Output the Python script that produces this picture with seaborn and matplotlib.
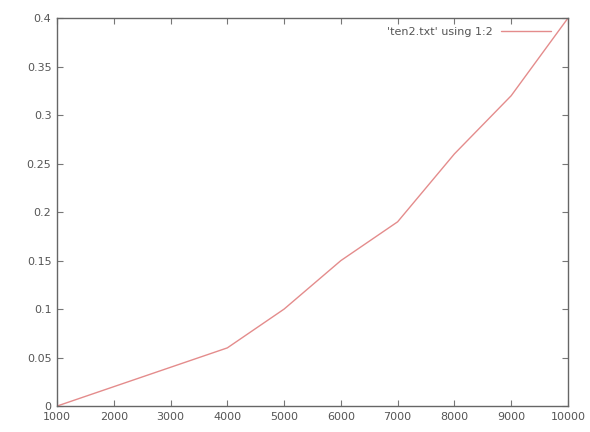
import matplotlib
matplotlib.use('Agg')
import matplotlib.pyplot as plt
import seaborn as sns
import pandas as pd

# valores
x_vals = [1000, 2000, 3000, 4000, 5000, 6000, 7000, 8000, 9000, 10000]
y_vals = [0.0, 0.02, 0.04, 0.06, 0.1, 0.15, 0.19, 0.26, 0.32, 0.4]
x_ticks = [1000, 2000, 3000, 4000, 5000, 6000, 7000, 8000, 9000, 10000]
y_ticks = [0, 0.05, 0.1, 0.15, 0.2, 0.25, 0.3, 0.35, 0.4]
y_tick_labels = ['0', '0.05', '0.1', '0.15', '0.2', '0.25', '0.3', '0.35', '0.4']
LABEL = "'ten2.txt' using 1:2"

sns.set_style('white')
plt.rcParams['font.family'] = ['DejaVu Sans']

df = pd.DataFrame({'x': x_vals, 'y': y_vals})

fig = plt.figure(figsize=(5.9, 4.32), dpi=100)
ax = fig.add_axes([0.0966, 0.060, 0.866, 0.898])
sns.lineplot(data=df, x='x', y='y', ax=ax, color='#e48c8c', linewidth=1.0, label=LABEL)

ax.set_xlim(1000, 10000)
ax.set_ylim(0, 0.4)
ax.set_xticks(x_ticks)
ax.set_yticks(y_ticks)
ax.set_yticklabels(y_tick_labels)
ax.set_xlabel('')
ax.set_ylabel('')
ax.tick_params(direction='in', length=4, width=0.8, color='#777777',
               labelsize=8, labelcolor='#555555', top=True, right=True,
               bottom=True, left=True, pad=4)
for s in ax.spines.values():
    s.set_color('#666666')
    s.set_linewidth(1.0)

# estilo gnuplot: texto a la izquierda de la muestra
ax.legend(loc='upper right', frameon=False, fontsize=8, handlelength=4.5,
          borderaxespad=0.4, labelcolor='#555555', markerfirst=False,
          bbox_to_anchor=(0.985, 1.0))

fig.savefig('out.png', dpi=100)
